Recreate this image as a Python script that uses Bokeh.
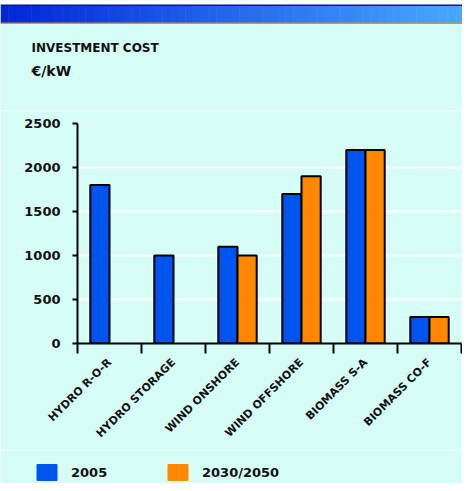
import math
from bokeh.plotting import figure
from bokeh.layouts import column
from bokeh.models import (ColumnDataSource, Range1d, FixedTicker, Legend, LegendItem)
from bokeh.transform import dodge
from bokeh.core.properties import value
from bokeh.embed import file_html
from bokeh.resources import INLINE

# ---- data ----
categories = ["HYDRO R-O-R", "HYDRO STORAGE", "WIND ONSHORE", "WIND OFFSHORE", "BIOMASS S-A", "BIOMASS CO-F"]
cost_2005 = [1800, 1000, 1100, 1700, 2200, 300]
cost_2030 = [float("nan"), float("nan"), 1000, 1900, 2200, 300]
series_names = ["2005", "2030/2050"]
y_ticks = [0, 500, 1000, 1500, 2000, 2500]
title_text = "INVESTMENT COST"
unit_text = "€/kW"

BLUE = "#0055ee"
ORANGE = "#ff8800"
BG = "#d6fcf6"
FONT = "DejaVu Sans"
W = 462
H_HDR = 110
H_MAIN = 340
H_FOOT = 33


def bare(fig):
    fig.grid.visible = False
    fig.outline_line_color = None
    fig.background_fill_color = BG
    fig.border_fill_color = BG
    fig.frame_align = False


# ---- header (banner + titles) ----
hdr = figure(width=W, height=H_HDR, x_range=Range1d(0, W), y_range=Range1d(0, H_HDR),
             x_axis_type=None, y_axis_type=None, toolbar_location=None,
             output_backend="svg", min_border=0)
bare(hdr)

n = 60
c0 = (0x00, 0x28, 0xd8)
c1 = (0x48, 0xa8, 0xff)
cols, lefts, rights = [], [], []
for i in range(n):
    t = i / (n - 1)
    cols.append("#%02x%02x%02x" % tuple(int(c0[k] + (c1[k] - c0[k]) * t) for k in range(3)))
    lefts.append(W * i / n)
    rights.append(W * (i + 1) / n + 0.5)
hdr.quad(left=[0], right=[W], bottom=[106], top=[H_HDR], fill_color="white", line_color=None)
hdr.quad(left=lefts, right=rights, bottom=87.5, top=104.5, fill_color=cols, line_color=None)
hdr.quad(left=[0], right=[W], bottom=[104.5], top=[106], fill_color="#1010b0", line_color=None)
hdr.quad(left=[0], right=[W], bottom=[86.5], top=[88], fill_color="#f08a20", line_color=None)
hdr.text(x=[31], y=[63], text=[title_text], text_font=value(FONT), text_font_style="bold",
         text_font_size="12px", text_color="#111111", text_baseline="alphabetic")
hdr.text(x=[31], y=[40], text=[unit_text], text_font=value(FONT), text_font_style="bold",
         text_font_size="14px", text_color="#111111", text_baseline="alphabetic")

# ---- main chart ----
idx = list(range(len(categories)))
centers = [i + 0.5 for i in idx]
src = ColumnDataSource(dict(center=centers, a=cost_2005, b=cost_2030))

p = figure(width=W, height=H_MAIN, x_range=Range1d(0, len(categories)), y_range=Range1d(0, 2500),
           toolbar_location=None, output_backend="svg",
           min_border_left=77, min_border_right=1, min_border_top=13, min_border_bottom=107)
p.background_fill_color = BG
p.border_fill_color = BG
p.outline_line_color = None
p.frame_align = False

bw = 0.3
p.vbar(x=dodge("center", -bw / 2, range=p.x_range), top="a", width=bw, source=src,
       fill_color=BLUE, line_color="black", line_width=2)
p.vbar(x=dodge("center", bw / 2, range=p.x_range), top="b", width=bw, source=src,
       fill_color=ORANGE, line_color="black", line_width=2)

# axes
xa = p.xaxis[0]
xa.ticker = FixedTicker(ticks=centers, minor_ticks=[i for i in range(len(categories) + 1)])
xa.major_label_overrides = {c: name for c, name in zip(centers, categories)}
xa.major_label_orientation = math.pi / 4
xa.major_tick_line_color = None
xa.major_tick_out = 0
xa.major_tick_in = 0
xa.minor_tick_out = 10
xa.minor_tick_in = 0
xa.minor_tick_line_color = "black"
xa.minor_tick_line_width = 2
xa.major_label_standoff = 7
xa.major_label_text_font = FONT
xa.major_label_text_font_style = "bold"
xa.major_label_text_font_size = "11px"
xa.major_label_text_color = "#111111"
xa.axis_line_color = "black"
xa.axis_line_width = 2

ya = p.yaxis[0]
ya.ticker = FixedTicker(ticks=y_ticks)
ya.minor_tick_line_color = None
ya.major_tick_out = 5
ya.major_tick_in = 0
ya.major_tick_line_width = 2
ya.major_label_standoff = 12
ya.major_label_text_font = FONT
ya.major_label_text_font_style = "bold"
ya.major_label_text_font_size = "13px"
ya.major_label_text_color = "#111111"
ya.axis_line_color = "black"
ya.axis_line_width = 2

p.xgrid.visible = False
p.ygrid.ticker = FixedTicker(ticks=y_ticks)
p.ygrid.grid_line_color = "white"
p.ygrid.grid_line_width = 2

# ---- footer with legend ----
foot = figure(width=W, height=H_FOOT, x_range=Range1d(0, 1), y_range=Range1d(0, 1),
              x_axis_type=None, y_axis_type=None, toolbar_location=None,
              output_backend="svg", min_border=0)
bare(foot)
# legend-only swatch renderers, placed outside the visible range
ra = foot.vbar(x=[-5], top=[0], width=0.1, fill_color=BLUE, line_color=BLUE)
rb = foot.vbar(x=[-5], top=[0], width=0.1, fill_color=ORANGE, line_color=ORANGE)
legend = Legend(items=[LegendItem(label=series_names[0], renderers=[ra]),
                       LegendItem(label=series_names[1], renderers=[rb])],
                orientation="horizontal", location=(34, 1),
                glyph_width=25, glyph_height=20, label_standoff=12, label_width=80,
                spacing=14, padding=0, margin=0, border_line_color=None,
                background_fill_alpha=0,
                label_text_font=FONT, label_text_font_style="bold",
                label_text_font_size="13px", label_text_color="#111111")
foot.add_layout(legend)

layout = column(hdr, p, foot, spacing=0)
open("out.html", "w").write(file_html(layout, INLINE))
